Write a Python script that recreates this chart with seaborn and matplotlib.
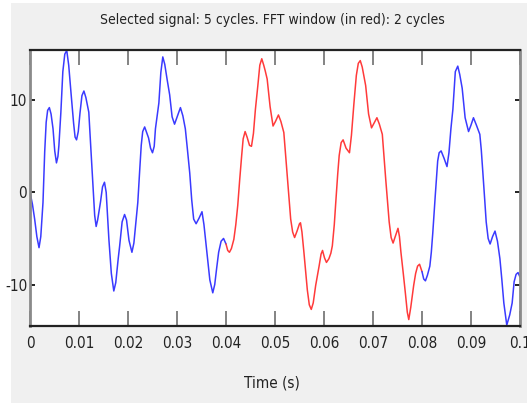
import matplotlib
matplotlib.use("Agg")
import matplotlib.pyplot as plt
import seaborn as sns
import pandas as pd
from matplotlib.patches import Rectangle

# time in milliseconds and signal values
time_ms = [0, 0.5, 0.95, 1.4, 1.84, 2.2, 2.65, 3.0, 3.3, 3.6, 3.95, 4.3, 4.7, 5.05, 5.4, 5.7,
           5.9, 6.3, 6.7, 7.1, 7.5, 7.9, 8.4, 8.9, 9.2, 9.5, 9.85, 10.2, 10.6, 11.0, 11.4,
           12.0, 12.5, 13.2, 13.5, 13.8, 14.4, 14.8, 15.2, 15.55, 16.1, 16.6, 17.1, 17.5,
           18.0, 18.3, 18.8, 19.3, 19.7, 20.2, 20.8, 21.2, 21.6, 22.0, 22.4, 22.7, 23.0,
           23.4, 23.8, 24.2, 24.6, 25.0, 25.35, 25.6, 26.0, 26.3, 26.7, 27.1, 27.5, 28.0,
           28.5, 29.0, 29.5, 30.1, 30.7, 31.2, 31.7, 32.1, 32.6, 33.0, 33.4, 33.9, 34.5,
           35.1, 35.5, 36.1, 36.7, 37.3, 37.7, 38.1, 38.5, 39.0, 39.5, 40.0, 40.35, 40.7,
           41.1, 41.6, 42.0, 42.4, 42.8, 43.2, 43.5, 43.9, 44.3, 44.8, 45.2, 45.6, 46.0,
           46.5, 46.9, 47.3, 47.7, 48.0, 48.4, 49.0, 49.6, 50.1, 50.7, 51.2, 51.8, 52.1,
           52.5, 53.2, 53.6, 54.0, 54.5, 55.0, 55.2, 55.5, 55.9, 56.6, 57.0, 57.4, 57.8,
           58.3, 59.0, 59.4, 59.7, 60.1, 60.5, 61.0, 61.4, 61.7, 62.1, 62.4, 62.8, 63.1,
           63.5, 63.9, 64.5, 65.2, 65.6, 66.1, 66.6, 67.0, 67.4, 67.8, 68.5, 69.1, 69.7,
           70.2, 70.8, 71.3, 71.9, 72.2, 72.6, 73.3, 73.7, 74.1, 74.6, 75.1, 75.4, 75.7,
           76.2, 76.6, 77.0, 77.3, 77.7, 78.3, 78.7, 79.1, 79.5, 80.0, 80.35, 80.7, 81.1,
           81.6, 81.9, 82.2, 82.7, 83.2, 83.5, 83.9, 84.5, 85.1, 85.5, 85.9, 86.3, 86.8,
           87.3, 87.7, 88.2, 88.8, 89.5, 90.0, 90.5, 91.1, 91.8, 92.1, 92.4, 92.8, 93.1,
           93.5, 93.9, 94.4, 94.9, 95.4, 95.9, 96.3, 96.7, 97.3, 97.9, 98.4, 98.8, 99.2,
           99.6, 100.0]
signal = [0, -1.3, -2.9, -4.8, -6.0, -4.8, -1.1, 4.4, 7.6, 8.9, 9.2, 8.5, 6.9, 4.5, 3.2, 3.9,
          5.1, 8.7, 13.1, 15.0, 15.4, 13.8, 10.6, 7.5, 6.0, 5.7, 6.6, 8.6, 10.5, 11.0, 10.3,
          8.7, 4.0, -2.5, -3.7, -3.0, -1.0, 0.6, 1.1, 0.0, -5.1, -8.8, -10.7, -9.8,
          -7.2, -5.8, -3.2, -2.4, -3.0, -5.2, -6.5, -5.5, -3.3, -1.1, 2.5, 5.1, 6.6,
          7.1, 6.5, 5.9, 4.8, 4.3, 5.0, 6.9, 8.5, 9.7, 13.0, 14.7, 13.9, 12.2,
          10.6, 8.2, 7.4, 8.3, 9.2, 8.3, 6.9, 4.8, 2.1, -0.8, -2.9, -3.4, -2.8,
          -2.1, -3.5, -6.5, -9.5, -10.9, -10.0, -8.2, -6.5, -5.3, -5.0, -5.6, -6.3, -6.5,
          -6.1, -5.1, -3.5, -1.4, 1.4, 4.0, 5.8, 6.6, 6.0, 5.1, 5.0, 6.4, 9.0,
          11.6, 13.8, 14.5, 13.8, 13.2, 12.3, 9.3, 7.2, 7.7, 8.4, 7.7, 6.5, 4.5,
          1.8, -2.9, -4.3, -4.9, -4.2, -3.4, -3.3, -4.3, -6.5, -10.6, -12.2, -12.7, -12.0,
          -10.1, -8.0, -6.7, -6.3, -7.1, -7.6, -7.2, -6.6, -5.8, -3.5, -1.1, 2.0, 4.0,
          5.4, 5.7, 4.8, 4.3, 6.2, 9.6, 12.7, 14.0, 14.3, 13.6, 11.6, 8.5, 7.0,
          7.5, 8.1, 7.4, 6.3, 4.2, 1.4, -3.2, -4.9, -5.5, -4.7, -3.9, -4.8, -6.5,
          -8.9, -10.9, -13.0, -13.8, -12.5, -10.1, -8.8, -8.0, -7.8, -8.6, -9.4, -9.6, -9.0,
          -8.0, -6.5, -4.4, -0.4, 3.4, 4.3, 4.5, 3.7, 2.8, 4.3, 6.9, 9.0, 13.1,
          13.7, 12.8, 11.3, 8.1, 6.6, 7.3, 8.1, 7.3, 6.3, 4.6, 2.3, -0.8, -3.2,
          -5.0, -5.6, -4.8, -4.2, -5.3, -7.2, -9.5, -12.0, -14.4, -13.3, -12.0, -9.7, -8.9,
          -8.7, -9.2]

window_start_ms = 40.0
window_end_ms = 80.0
x_ticks = [0, 0.01, 0.02, 0.03, 0.04, 0.05, 0.06, 0.07, 0.08, 0.09, 0.1]
x_tick_labels = ["0", "0.01", "0.02", "0.03", "0.04", "0.05", "0.06", "0.07", "0.08", "0.09", "0.1"]
y_ticks = [-10, 0, 10]
y_tick_labels = ["-10", "0", "10"]
title = "Selected signal: 5 cycles. FFT window (in red): 2 cycles"
x_label = "Time (s)"

rows = []
for t, v in zip(time_ms, signal):
    if t <= window_start_ms:
        rows.append((t / 1000, v, "before"))
    if window_start_ms <= t <= window_end_ms:
        rows.append((t / 1000, v, "window"))
    if t >= window_end_ms:
        rows.append((t / 1000, v, "after"))
df = pd.DataFrame(rows, columns=["time", "value", "segment"])

sns.set_style("white")
fam = ["DejaVu Sans", "Liberation Sans"]
plt.rcParams["font.family"] = fam
plt.rcParams["font.stretch"] = "condensed"

fig = plt.figure(figsize=(5.27, 4.03), dpi=100, facecolor="#f0f0f0")
fig.patches.append(Rectangle((0, 0), 11 / 527, 1, transform=fig.transFigure,
                             facecolor="white", edgecolor="none", zorder=-1))
fig.patches.append(Rectangle((0, 1 - 3 / 403), 1, 3 / 403, transform=fig.transFigure,
                             facecolor="white", edgecolor="none", zorder=-1))

ax = fig.add_axes([30 / 527, 77 / 403, 490 / 527, 276 / 403])
ax.set_facecolor("white")

sns.lineplot(data=df, x="time", y="value", hue="segment", sort=False,
             palette={"before": "#3a3aff", "window": "#ff3a3a", "after": "#3a3aff"},
             linewidth=1.1, legend=False, ax=ax, estimator=None)

ax.set_xlim(0, 0.1)
ax.set_ylim(-14.5, 15.45)
ax.set_xticks(x_ticks)
ax.set_xticklabels(x_tick_labels)
ax.set_yticks(y_ticks)
ax.set_yticklabels(y_tick_labels)
ax.set_xlabel("")
ax.set_ylabel("")

ax.tick_params(axis="x", which="both", direction="in", length=10.5, width=1.3,
               color="#7a7a7a", top=True, bottom=True, labelsize=11, pad=7,
               labelcolor="#222222")
ax.tick_params(axis="y", which="both", direction="in", length=3.6, width=1.3,
               color="#111111", left=True, right=True, labelsize=11, pad=2,
               labelcolor="#222222")
for lbl in ax.get_xticklabels() + ax.get_yticklabels():
    lbl.set_fontstretch("condensed")

for side in ["top", "bottom"]:
    ax.spines[side].set_color("#222222")
    ax.spines[side].set_linewidth(1.6)
for side in ["left", "right"]:
    ax.spines[side].set_color("#8a8a8a")
    ax.spines[side].set_linewidth(2.0)

fig.text(272 / 527, 1 - 20 / 403, title, ha="center", va="center",
         fontsize=10, color="#222222", family=fam, fontstretch="condensed")
fig.text(272 / 527, 1 - 383 / 403, x_label, ha="center", va="center",
         fontsize=11, color="#222222", family=fam, fontstretch="condensed")

fig.savefig("out.png", dpi=100, facecolor=fig.get_facecolor())
